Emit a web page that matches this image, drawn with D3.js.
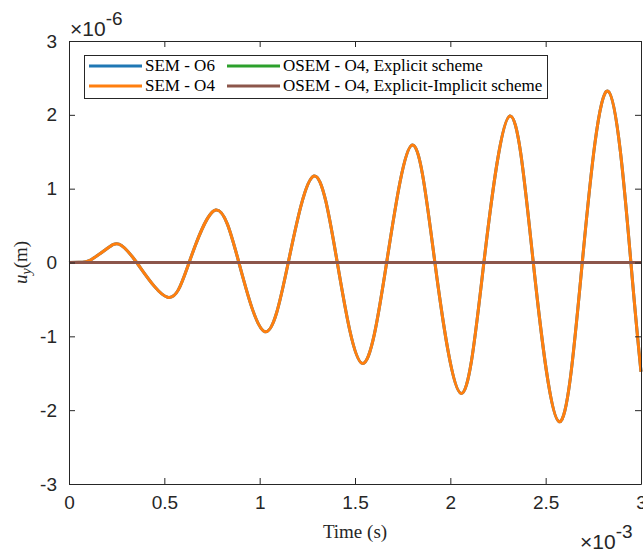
<!DOCTYPE html>
<html>
<head>
<meta charset="utf-8">
<script src="https://cdn.jsdelivr.net/npm/d3@7"></script>
<style>
  body { margin: 0; background: #fff; }
  svg { display: block; }
</style>
</head>
<body>
<div id="chart"></div>
<script>
// time in units of 1e-3 s, displacement in units of 1e-6 m
const timeSem = [0, 0.06, 0.11, 0.20, 0.262, 0.355, 0.517, 0.63, 0.769, 0.891, 1.028, 1.150, 1.285, 1.407,
  1.538, 1.666, 1.800, 1.919, 2.056, 2.176, 2.313, 2.435, 2.571, 2.692, 2.828, 2.947, 3.0]
const uySemO6 = [0, 0.004, 0.03, 0.19, 0.25, 0, -0.47, 0, 0.71, 0, -0.937, 0, 1.172, 0,
  -1.366, 0, 1.592, 0, -1.773, 0, 1.985, 0, -2.157, 0, 2.32, 0, -1.48]
const uySemO4 = [0, 0.004, 0.03, 0.19, 0.25, 0, -0.47, 0, 0.71, 0, -0.937, 0, 1.172, 0,
  -1.366, 0, 1.592, 0, -1.773, 0, 1.985, 0, -2.157, 0, 2.32, 0, -1.48]
const timeOsem = [0, 3.0]
const uyOsemExplicit = [0, 0]
const uyOsemExplicitImplicit = [0, 0]

const xTicks = [0, 0.5, 1, 1.5, 2, 2.5, 3]
const yTicks = [-3, -2, -1, 0, 1, 2, 3]

const series = [
  { name: 'SEM - O6', color: '#1f77b4', t: timeSem, v: uySemO6 },
  { name: 'SEM - O4', color: '#ff7f0e', t: timeSem, v: uySemO4 },
  { name: 'OSEM - O4, Explicit scheme', color: '#2ca02c', t: timeOsem, v: uyOsemExplicit },
  { name: 'OSEM - O4, Explicit-Implicit scheme', color: '#8c564b', t: timeOsem, v: uyOsemExplicitImplicit }
]

const width = 643
const height = 549
const margin = { left: 69, right: 2, top: 41, bottom: 65 }
const axisColor = '#262626'
const tickFont = '"Liberation Sans", Arial, sans-serif'
const texFont = '"Liberation Serif", "DejaVu Serif", serif'

const svg = d3.select('#chart').append('svg')
  .attr('width', width)
  .attr('height', height)

const x = d3.scaleLinear().domain([0, 3]).range([margin.left, width - margin.right])
const y = d3.scaleLinear().domain([-3, 3]).range([height - margin.bottom, margin.top])

const line = d3.line()
  .x(d => x(d[0]))
  .y(d => y(d[1]))
  .curve(d3.curveNatural)

// lines
const plot = svg.append('g')
series.forEach(s => {
  plot.append('path')
    .datum(s.t.map((t, i) => [t, s.v[i]]))
    .attr('fill', 'none')
    .attr('stroke', s.color)
    .attr('stroke-width', 3)
    .attr('d', line)
})

// axes (box with inward ticks)
const tickLen = 6
const fmt = d => String(d)
const axisBottom = d3.axisBottom(x).tickValues(xTicks).tickSizeInner(-tickLen).tickSizeOuter(0).tickPadding(12).tickFormat(fmt)
const axisTop = d3.axisTop(x).tickValues(xTicks).tickSizeInner(-tickLen).tickSizeOuter(0).tickFormat('')
const axisLeft = d3.axisLeft(y).tickValues(yTicks).tickSizeInner(-tickLen).tickSizeOuter(0).tickPadding(12).tickFormat(fmt)
const axisRight = d3.axisRight(y).tickValues(yTicks).tickSizeInner(-tickLen).tickSizeOuter(0).tickFormat('')

function styleAxis(g) {
  g.select('.domain').attr('stroke', axisColor)
  g.selectAll('.tick line').attr('stroke', axisColor)
  g.selectAll('.tick text').attr('fill', axisColor).style('font-family', tickFont).style('font-size', '19px')
}

svg.append('g').attr('transform', `translate(0,${y(-3)})`).call(axisBottom).call(styleAxis)
svg.append('g').attr('transform', `translate(0,${y(3)})`).call(axisTop).call(styleAxis)
svg.append('g').attr('transform', `translate(${x(0)},0)`).call(axisLeft).call(styleAxis)
svg.append('g').attr('transform', `translate(${x(3)},0)`).call(axisRight).call(styleAxis)

// exponent labels
function exponent(xPos, yPos, exp) {
  const t = svg.append('text')
    .attr('x', xPos)
    .attr('y', yPos)
    .attr('fill', axisColor)
    .style('font-family', tickFont)
    .style('font-size', '21px')
  t.append('tspan').text('\u00d710')
  t.append('tspan').attr('dy', -11).style('font-size', '19px').text(exp)
}
exponent(70, 36, '-6')
exponent(580, 549, '-3')

// axis labels
svg.append('text')
  .attr('x', x(1.5))
  .attr('y', 538)
  .attr('text-anchor', 'middle')
  .attr('fill', axisColor)
  .style('font-family', texFont)
  .style('font-size', '19px')
  .text('Time (s)')

const ylab = svg.append('text')
  .attr('transform', `translate(27,${y(0)}) rotate(-90)`)
  .attr('text-anchor', 'middle')
  .attr('fill', axisColor)
  .style('font-family', texFont)
  .style('font-size', '19px')
ylab.append('tspan').style('font-style', 'italic').text('u')
ylab.append('tspan').attr('dy', 4).style('font-style', 'italic').style('font-size', '14px').text('y')
ylab.append('tspan').attr('dy', -4).text('(m)')

// legend
const legend = svg.append('g')
legend.append('rect')
  .attr('x', 84.5).attr('y', 55.5)
  .attr('width', 463).attr('height', 43)
  .attr('fill', '#fff')
  .attr('stroke', axisColor)
  .attr('stroke-width', 1)

const legendPos = [
  { lx: 89, ly: 66 }, { lx: 89, ly: 86 }, { lx: 227, ly: 66 }, { lx: 227, ly: 86 }
]
const item = legend.selectAll('g.item').data(series).enter()
  .append('g')
  .classed('item', true)
  .attr('transform', (d, i) => `translate(${legendPos[i].lx},${legendPos[i].ly})`)

item.append('line')
  .attr('x1', 0).attr('x2', 53)
  .attr('stroke', d => d.color)
  .attr('stroke-width', 3)

item.append('text')
  .attr('x', 56)
  .attr('dy', 5)
  .attr('fill', '#000')
  .style('font-family', texFont)
  .style('font-size', '17px')
  .text(d => d.name)
</script>
</body>
</html>
